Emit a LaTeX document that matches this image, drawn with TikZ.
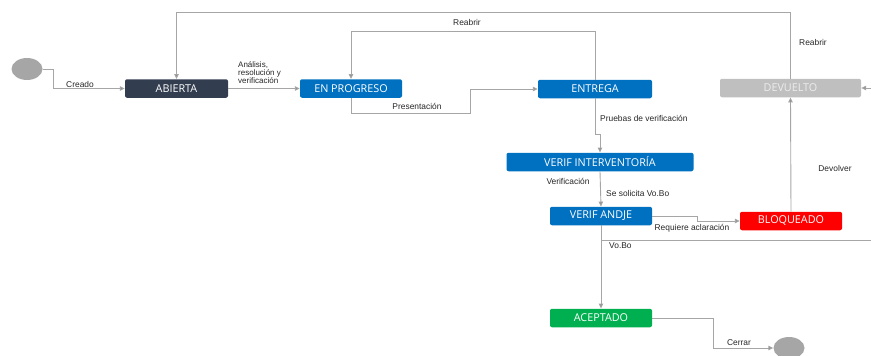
\documentclass[tikz,border=0pt]{standalone}
\usepackage{fontspec}
\setmainfont{Liberation Sans}
\newfontfamily\boxfont{Open Sans}
\usetikzlibrary{arrows.meta,calc,shapes.geometric}
\definecolor{navy}{HTML}{323E50}
\definecolor{bblue}{HTML}{0070C0}
\definecolor{bred}{HTML}{FF0000}
\definecolor{bgreen}{HTML}{00B050}
\definecolor{bgray}{HTML}{BFBFBF}
\definecolor{lgray}{HTML}{A6A6A6}
\definecolor{lbl}{HTML}{262626}
\tikzset{
  statebox/.style={draw=none, rounded corners=2pt, text=white, inner sep=0pt,
    font=\boxfont\fontsize{10.8}{12}\selectfont, minimum height=18.5pt},
  pseudo/.style={ellipse, fill=lgray, draw=none, minimum width=31pt, minimum height=22pt, inner sep=0pt},
  conn/.style={draw=lgray, line width=0.9pt, -{Triangle[length=5pt,width=4.5pt,fill=gray!90]}},
  lab/.style={text=lbl, inner sep=0pt, font=\fontsize{8.4}{8.6}\selectfont},
}
\begin{document}
\begin{tikzpicture}[x=1pt,y=-1pt]
\useasboundingbox (0,0) rectangle (871,356);
\clip (0,0) rectangle (871,356);
% nodes
\node[pseudo] (start) at (27,69) {};
\node[statebox, fill=navy, minimum width=103pt] (abierta) at (176.5,88.5) {ABIERTA};
\node[statebox, fill=bblue, minimum width=102pt] (enprog) at (351,88.5) {EN PROGRESO};
\node[statebox, fill=bblue, minimum width=114pt] (entrega) at (595,89) {ENTREGA};
\node[statebox, fill=bgray, text=white!93!black, minimum width=141pt] (devuelto) at (790.5,88) {DEVUELTO};
\node[statebox, fill=bblue, minimum width=187pt] (verifint) at (600,162) {VERIF INTERVENTORÍA};
\node[statebox, fill=bblue, minimum width=102pt] (verifandje) at (601,216) {VERIF ANDJE};
\node[statebox, fill=bred, minimum width=102pt] (bloq) at (791,221) {BLOQUEADO};
\node[statebox, fill=bgreen, minimum width=102pt] (aceptado) at (601,318) {ACEPTADO};
\node[pseudo] (end) at (789,348) {};
% helper coordinates
\coordinate (top1) at (0,12);
\coordinate (top2) at (0,31);
\coordinate (p1) at (470,113);
\coordinate (vb) at (601,240);
\coordinate (offR) at (890,240);
% connectors
\draw[conn] (start.east) -- ++(11,0) |- (abierta.west);
\draw[conn] (abierta.east) -- (enprog.west);
\draw[conn] (devuelto.north) -- (devuelto.north |- top1) -| (abierta.north);
\draw[conn] (entrega.north) -- (entrega.north |- top2) -| (enprog.north);
\draw[conn] (enprog.south) |- (p1) |- (entrega.west);
\draw[conn] (entrega.south) -- ++(0,36) -| (verifint.north);
\draw[conn] (verifint.south) -- (verifandje.north);
\draw[conn] (verifandje.east) -- ++(45,0) |- (bloq.west);
\draw[conn] (bloq.north) -- (devuelto.south);
\draw[conn] (verifandje.south) -- (aceptado.north);
\draw[conn] (vb) -- (offR) |- (devuelto.east);
\draw[conn] (aceptado.east) -- ++(61,0) |- (end.west);
% labels
\node[lab] (l1) at (80,84) {Creado};
\node[lab, anchor=west, align=left, font=\fontsize{8}{8}\selectfont] (l2) at (238,73) {Análisis,\\resolución y\\verificación};
\node[lab] (l3) at (467,22) {Reabrir};
\node[lab] (l4) at (813,42) {Reabrir};
\node[lab] (l5) at (417,106) {Presentación};
\node[lab, anchor=west] (l6) at (600,118) {Pruebas de verificación};
\node[lab] (l7) at (568,181) {Verificación};
\node[lab, anchor=west] (l8) at (606,193) {Se solicita Vo.Bo};
\node[lab] (l9) at (692,228) {Requiere aclaración};
\node[lab] (l10) at (835,168) {Devolver};
\node[lab, anchor=west] (l11) at (609,246) {Vo.Bo};
\node[lab] (l12) at (739,343) {Cerrar};
\end{tikzpicture}
\end{document}
